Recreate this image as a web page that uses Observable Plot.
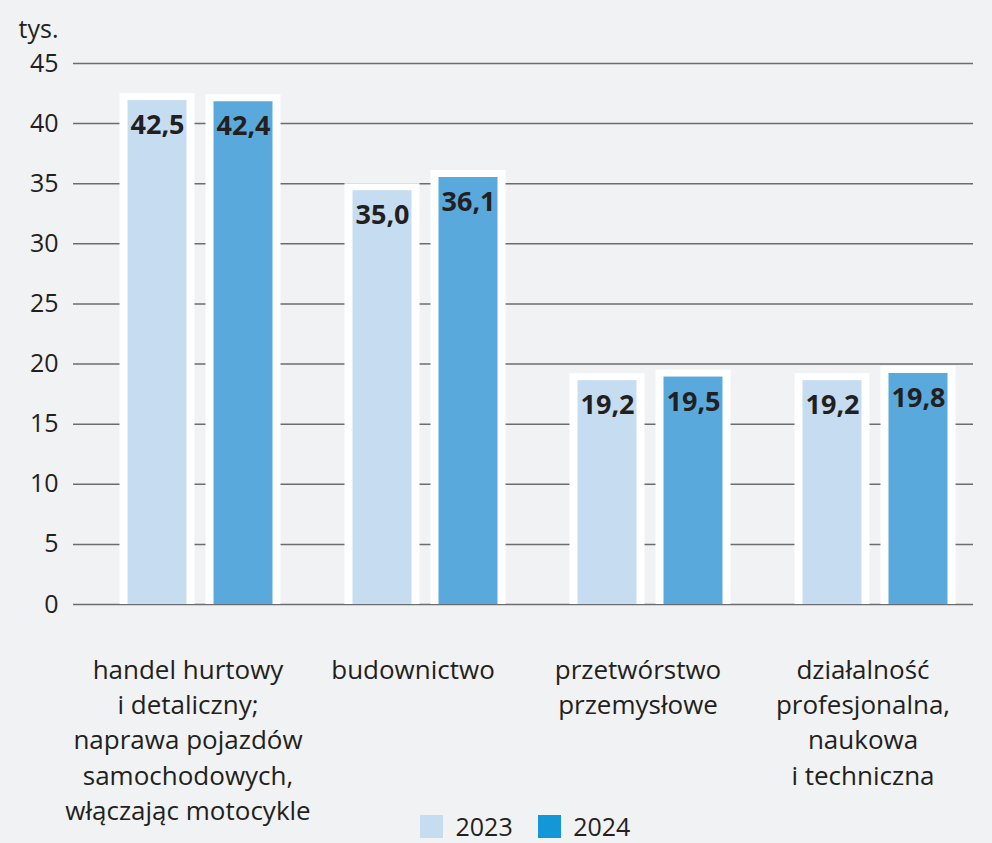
<!DOCTYPE html>
<html>
<head>
<meta charset="utf-8">
<script src="https://cdn.jsdelivr.net/npm/d3@7"></script>
<script src="https://cdn.jsdelivr.net/npm/@observablehq/plot@0.6"></script>
<style>
  html, body { margin: 0; padding: 0; background: #f1f2f4; }
  #wrap { position: relative; width: 992px; height: 843px; overflow: hidden; }
  #base, #chart { position: absolute; left: 0; top: 0; }
  #legend { position: absolute; left: 420px; top: 810px; }
</style>
</head>
<body>
<div id="wrap"><div id="base"></div><div id="chart"></div><div id="legend"></div></div>
<script>
const categories = [
  "handel hurtowy\ni detaliczny;\nnaprawa pojazdów\nsamochodowych,\nwłączając motocykle",
  "budownictwo",
  "przetwórstwo\nprzemysłowe",
  "działalność\nprofesjonalna,\nnaukowa\ni techniczna"
];
const years = ["2023", "2024"];
const values2023 = [42.5, 35.0, 19.2, 19.2];
const values2024 = [42.4, 36.1, 19.5, 19.8];
const yTicks = [0, 5, 10, 15, 20, 25, 30, 35, 40, 45];
const unitLabel = ["tys."];
const barColors = ["#c6ddf1", "#5aa9dc"];
const legendColors = ["#c6ddf1", "#1497d7"];

const data = [];
categories.forEach((c, i) => {
  data.push({category: c, year: "2023", value: values2023[i]});
  data.push({category: c, year: "2024", value: values2024[i]});
});

const fmt = v => v.toFixed(1).replace(".", ",");
const ink = "#231f20";
const font = "'Open Sans', 'Noto Sans', sans-serif";
const dims = {width: 992, height: 843, marginTop: 63, marginBottom: 239, marginLeft: 73, marginRight: 19};

// Base layer: grid, y tick labels, unit label
const base = Plot.plot({
  ...dims,
  style: {background: "#f1f2f4", fontFamily: font, color: ink},
  y: {domain: [0, 45]},
  marks: [
    Plot.ruleY(yTicks, {y: d => d, stroke: "#6b6c6e", strokeWidth: 1.5}),
    Plot.axisY(yTicks, {tickSize: 0, tickPadding: 15, fontSize: 25, fill: ink, label: null}),
    Plot.text(unitLabel, {text: d => d, frameAnchor: "top-left", lineAnchor: "middle", textAnchor: "end", dx: -15, dy: -34, fontSize: 25, fill: ink})
  ]
});
document.getElementById("base").appendChild(base);

// Bars layer
const chart = Plot.plot({
  ...dims,
  style: {background: "transparent", fontFamily: font, color: ink},
  fx: {domain: categories, range: [86, 988], padding: 0, axis: null},
  x: {domain: years, padding: 0, paddingOuter: 0.296, axis: null},
  y: {domain: [0, 45], axis: null},
  color: {domain: years, range: barColors},
  marks: [
    Plot.barY(data, {fx: "category", x: "year", y: "value", fill: "#ffffff", insetLeft: 5.5, insetRight: 5.5, ariaLabel: "box"}),
    Plot.barY(data, {fx: "category", x: "year", y: "value", fill: "year", insetLeft: 13.5, insetRight: 13.5, insetTop: 7}),
    Plot.text(data, {fx: "category", x: "year", y: "value", text: d => fmt(d.value), dy: 32, fontSize: 27, fontWeight: "bold", fill: ink}),
    Plot.text(categories, {fx: d => d, text: d => d, frameAnchor: "bottom", lineAnchor: "top", dy: 49, dx: -12, fontSize: 26, lineHeight: 1.36, fill: ink})
  ]
});
chart.querySelectorAll('g[aria-label="box"]').forEach(g => {
  g.style.filter = "drop-shadow(4px -1px 4px rgba(0,0,0,0.26))";
});
document.getElementById("chart").appendChild(chart);

const legend = Plot.legend({
  color: {type: "ordinal", domain: years, range: legendColors},
  swatchWidth: 23,
  swatchHeight: 23,
  style: {fontSize: "25px", lineHeight: "25px", fontFamily: font, color: ink, background: "transparent"}
});
document.getElementById("legend").appendChild(legend);
</script>
</body>
</html>
